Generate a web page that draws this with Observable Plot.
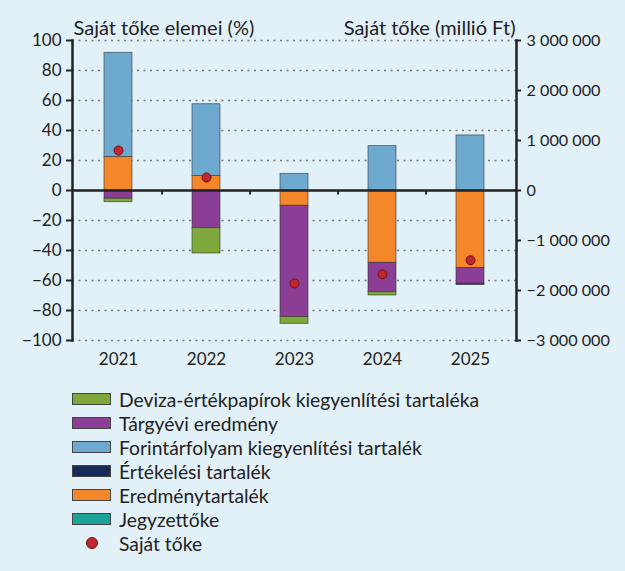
<!DOCTYPE html>
<html>
<head>
<meta charset="utf-8">
<script src="https://cdn.jsdelivr.net/npm/d3@7"></script>
<script src="https://cdn.jsdelivr.net/npm/@observablehq/plot@0.6"></script>
<style>
  html, body { margin: 0; padding: 0; }
  body { width: 625px; height: 571px; background: #e2f0f8; font-family: Lato, "Open Sans", sans-serif; color: #222; position: relative; overflow: hidden; }
  #chart { position: absolute; left: 0; top: 0; }
  #legend { position: absolute; left: 72px; top: 387px; }
  .row { height: 24px; display: flex; align-items: center; font-size: 19.3px; }
  .sw { width: 37px; height: 10px; border: 1px solid #444; margin-right: 8px; box-sizing: content-box; }
  .dotsw { width: 39px; height: 12px; margin-right: 8px; display: flex; justify-content: center; align-items: center; }
  .dotsw span { width: 10px; height: 10px; border-radius: 50%; background: #c1272d; border: 1px solid #6a1212; display: block; }
</style>
</head>
<body>
<div id="chart"></div>
<div id="legend"></div>
<script>
const years = ["2021", "2022", "2023", "2024", "2025"];
// component values, % of equity
const jegyzettoke = [0, 0, 0, 0, 0];
const eredmenytartalek = [22.4, 9.6, -10.2, -48.2, -51.6];
const forint = [69.4, 47.9, 11.1, 29.6, 36.7];
const targyevi = [-5.5, -25.1, -74.2, -19.6, -10.6];
const ertekelesi = [0, 0, 0, 0, -0.8];
const deviza = [-2.3, -16.9, -4.5, -2.2, 0];
// equity, million HUF
const sajatToke = [800000, 260000, -1860000, -1675000, -1395000];

const leftTicks = [-100, -80, -60, -40, -20, 0, 20, 40, 60, 80, 100];
const rightTicks = [-3000000, -2000000, -1000000, 0, 1000000, 2000000, 3000000];
const ratio = 30000; // 1 % unit = 30 000 million Ft on right axis

const seriesNames = ["Jegyzettőke", "Eredménytartalék", "Forintárfolyam kiegyenlítési tartalék", "Tárgyévi eredmény", "Értékelési tartalék", "Deviza-értékpapírok kiegyenlítési tartaléka"];
const seriesValues = [jegyzettoke, eredmenytartalek, forint, targyevi, ertekelesi, deviza];
const seriesColors = ["#1ba39a", "#f3872a", "#6eaad0", "#8a3e95", "#172a58", "#7ea83c"];

const legendNames = ["Deviza-értékpapírok kiegyenlítési tartaléka", "Tárgyévi eredmény", "Forintárfolyam kiegyenlítési tartalék", "Értékelési tartalék", "Eredménytartalék", "Jegyzettőke"];

const rows = [];
seriesNames.forEach((s, si) => {
  years.forEach((y, yi) => {
    const v = seriesValues[si][yi];
    if (v !== 0) rows.push({year: y, series: s, value: v});
  });
});

const fmtBig = d => {
  const r = Math.round(d);
  const s = d3.format(",")(Math.abs(r)).replace(/,/g, "\u00a0");
  return (r < 0 ? "\u2212" : "") + s;
};
const fmtLeft = d => (d < 0 ? "\u2212" : "") + Math.abs(d);

const plot = Plot.plot({
  width: 625,
  height: 372,
  marginLeft: 72,
  marginRight: 109,
  marginTop: 40,
  marginBottom: 32,
  style: {background: "transparent", fontFamily: "Lato, 'Open Sans', sans-serif", fontSize: "17px", color: "#222"},
  x: {domain: years, paddingInner: 0.685, paddingOuter: 0.3425, label: null},
  y: {domain: [-100, 100], label: null},
  color: {domain: seriesNames, range: seriesColors},
  marks: [
    Plot.gridY({ticks: leftTicks.filter(t => t !== 0), stroke: "#777", strokeOpacity: 1, strokeWidth: 1.3, strokeDasharray: "2,4.5"}),
    Plot.barY(rows, {x: "year", y: "value", fill: "series", order: seriesNames, stroke: "#333", strokeWidth: 0.8, strokeOpacity: 0.75}),
    Plot.ruleY([0], {stroke: "#222", strokeWidth: 2.5}),
    Plot.ruleX(years.slice(1), {x: d => d, dx: -44.4, y1: 0, y2: -3, stroke: "#222", strokeWidth: 2}),
    Plot.dot(years, {x: d => d, y: (d, i) => sajatToke[i] / ratio, r: 4.5, fill: "#c1272d", stroke: "#6a1212", strokeWidth: 1}),
    Plot.frame({anchor: "left", stroke: "#222", strokeWidth: 2.5}),
    Plot.frame({anchor: "right", stroke: "#222", strokeWidth: 2.5}),
    Plot.axisY({anchor: "left", ticks: leftTicks, tickFormat: fmtLeft, tickSize: 6, tickPadding: 5, strokeWidth: 2, label: null, fontSize: 17}),
    Plot.axisY({anchor: "right", ticks: rightTicks.map(v => v / ratio), tickFormat: d => fmtBig(d * ratio), tickSize: 4, tickPadding: 6, strokeWidth: 2, label: null, fontSize: 16.2}),
    Plot.axisX({tickSize: 0, tickPadding: 12, label: null, fontSize: 17}),
    Plot.text(["Saját tőke elemei (%)"], {frameAnchor: "top-left", dy: -20, dx: 1, textAnchor: "start", fontSize: 20}),
    Plot.text(["Saját tőke (millió Ft)"], {frameAnchor: "top-right", dy: -20, dx: -1, textAnchor: "end", fontSize: 20})
  ]
});
document.getElementById("chart").appendChild(plot);

const legend = document.getElementById("legend");
legendNames.forEach(name => {
  const row = document.createElement("div");
  row.className = "row";
  const sw = document.createElement("div");
  sw.className = "sw";
  sw.style.background = seriesColors[seriesNames.indexOf(name)];
  row.appendChild(sw);
  const t = document.createElement("span");
  t.textContent = name;
  row.appendChild(t);
  legend.appendChild(row);
});
const drow = document.createElement("div");
drow.className = "row";
drow.innerHTML = '<div class="dotsw"><span></span></div><span>Saját tőke</span>';
legend.appendChild(drow);
</script>
</body>
</html>
